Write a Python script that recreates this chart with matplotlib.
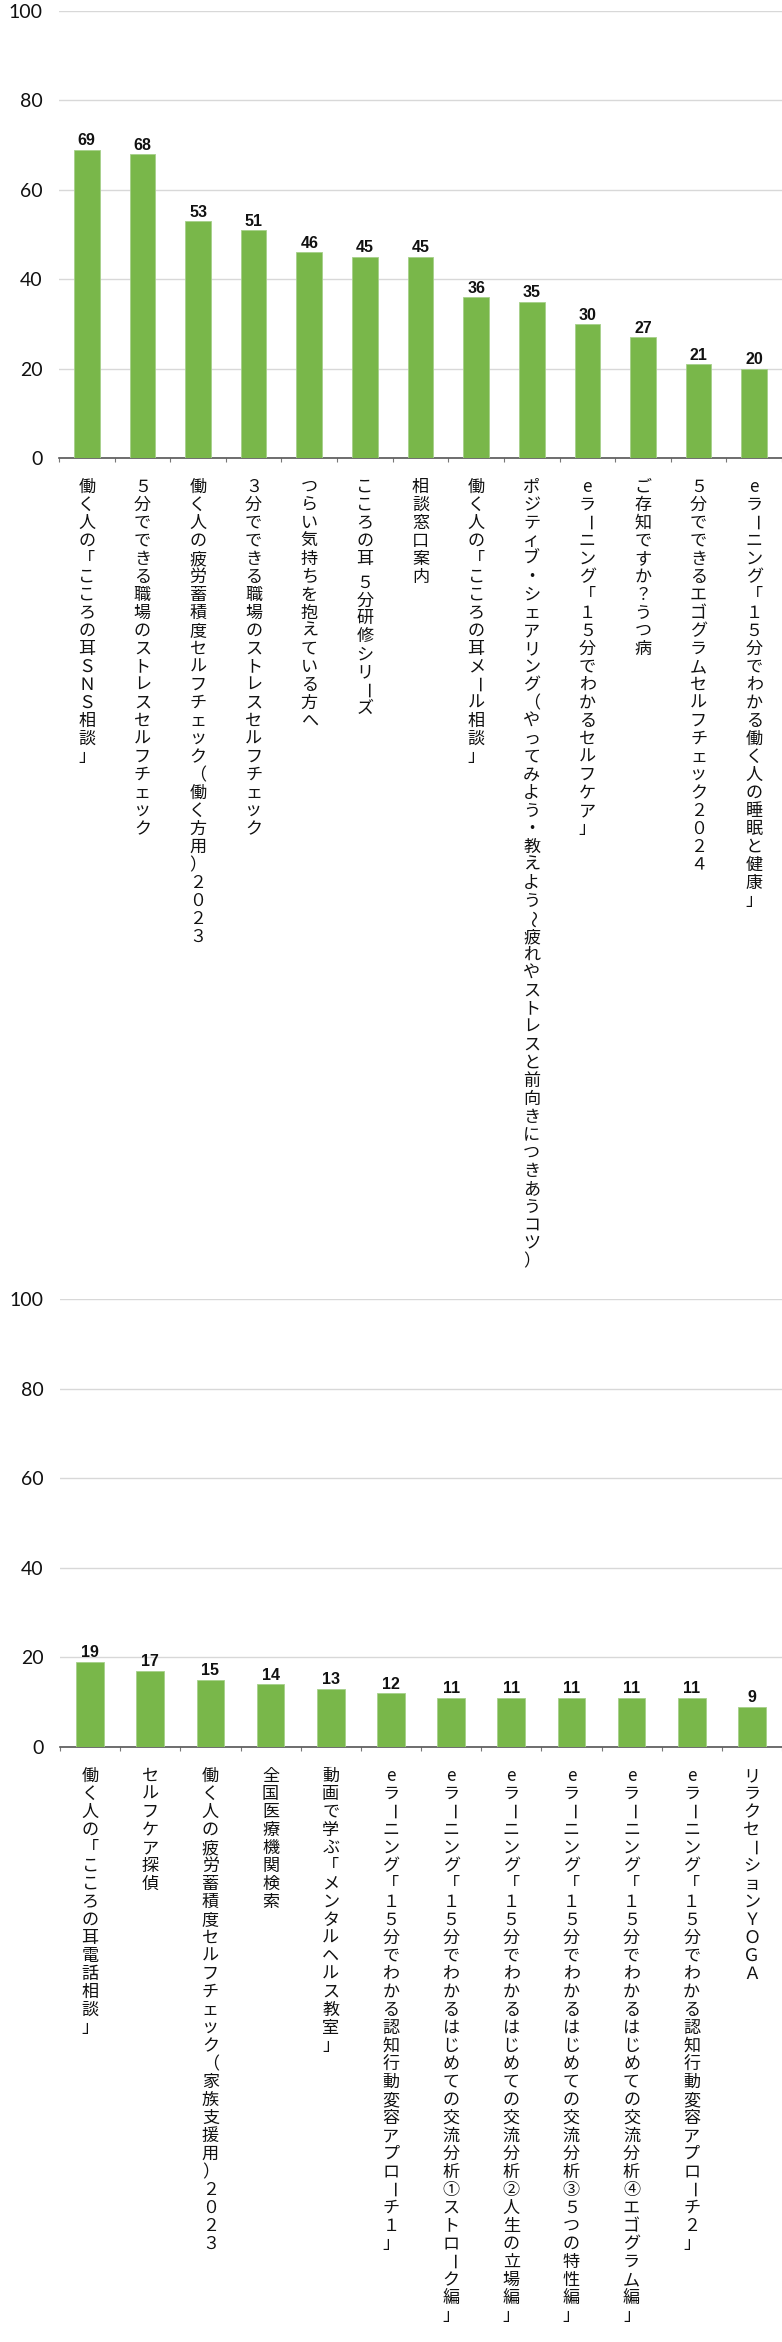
import matplotlib
matplotlib.use("Agg")
import matplotlib.pyplot as plt

plt.rcParams['font.family'] = ['Noto Sans CJK JP', 'DejaVu Sans']

# ---------------- data ----------------
labels_top = [
    "働く人の「こころの耳ＳＮＳ相談」",
    "５分でできる職場のストレスセルフチェック",
    "働く人の疲労蓄積度セルフチェック（働く方用）２０２３",
    "３分でできる職場のストレスセルフチェック",
    "つらい気持ちを抱えている方へ",
    "こころの耳 ５分研修シリーズ",
    "相談窓口案内",
    "働く人の「こころの耳メール相談」",
    "ポジティブ・シェアリング（やってみよう・教えよう～疲れやストレスと前向きにつきあうコツ）",
    "eラーニング「１５分でわかるセルフケア」",
    "ご存知ですか？うつ病",
    "５分でできるエゴグラムセルフチェック２０２４",
    "eラーニング「１５分でわかる働く人の睡眠と健康」",
]
values_top = [69, 68, 53, 51, 46, 45, 45, 36, 35, 30, 27, 21, 20]

labels_bottom = [
    "働く人の「こころの耳電話相談」",
    "セルフケア探偵",
    "働く人の疲労蓄積度セルフチェック（家族支援用）２０２３",
    "全国医療機関検索",
    "動画で学ぶ「メンタルヘルス教室」",
    "eラーニング「１５分でわかる認知行動変容アプローチ１」",
    "eラーニング「１５分でわかるはじめての交流分析①ストローク編」",
    "eラーニング「１５分でわかるはじめての交流分析②人生の立場編」",
    "eラーニング「１５分でわかるはじめての交流分析③５つの特性編」",
    "eラーニング「１５分でわかるはじめての交流分析④エゴグラム編」",
    "eラーニング「１５分でわかる認知行動変容アプローチ２」",
    "リラクセーションＹＯＧＡ",
]
values_bottom = [19, 17, 15, 14, 13, 12, 11, 11, 11, 11, 11, 9]

BAR = '#79b74a'
GRID = '#d8d8d8'
PX = 0.72  # px -> pt at dpi 100
ROTATE = set("ー～")


def vertical_label(ax, x, text, first=29, step=18.0):
    # tategaki: one character per row, stacked downward
    off = first
    for ch in text:
        if ch == ' ':
            off += step * 0.3
            continue
        rot = -90 if ch in ROTATE else 0
        ax.annotate(ch, xy=(x, 0), xycoords=('data', 'axes fraction'),
                    xytext=(0, -off * PX), textcoords='offset points',
                    ha='center', va='center', rotation=rot,
                    fontsize=12.3, color='#111111', annotation_clip=False)
        off += step


def panel(ax, labels, values):
    n = len(values)
    xs = list(range(n))
    ax.bar(xs, values, width=0.46, color=BAR, edgecolor='#a6d08a',
           linewidth=0.6, zorder=3)
    ax.set_xlim(-0.5, n - 0.5)
    ax.set_ylim(0, 100)
    ax.set_yticks([0, 20, 40, 60, 80, 100])
    ax.yaxis.grid(True, color=GRID, linewidth=1.0, zorder=0)
    ax.set_axisbelow(True)
    for s in ['top', 'right', 'left']:
        ax.spines[s].set_visible(False)
    ax.spines['bottom'].set_color('#555555')
    ax.spines['bottom'].set_linewidth(1.2)
    ax.tick_params(axis='y', length=0, pad=12, labelsize=14)
    for t in ax.get_yticklabels():
        t.set_family(['Lato', 'DejaVu Sans'])
        t.set_color('#111111')
    # small ticks between categories
    ax.set_xticks([i - 0.5 for i in range(n + 1)])
    ax.set_xticklabels([])
    ax.tick_params(axis='x', direction='out', length=3, width=0.8,
                   color='#777777')
    for x, v in zip(xs, values):
        ax.annotate(str(v), xy=(x, v), xytext=(0, 1), textcoords='offset points',
                    ha='center', va='bottom', fontsize=11.5, fontweight='bold',
                    family=['Liberation Sans', 'DejaVu Sans'], color='#111111')
    for x, lab in zip(xs, labels):
        vertical_label(ax, x, lab)


fig = plt.figure(figsize=(7.82, 23.42), dpi=100)
ax1 = fig.add_axes([59 / 782, 1 - 458 / 2342, 723 / 782, 447 / 2342])
ax2 = fig.add_axes([60 / 782, 1 - 1747 / 2342, 722 / 782, 448 / 2342])

panel(ax1, labels_top, values_top)
panel(ax2, labels_bottom, values_bottom)

fig.savefig("out.png", dpi=100)
